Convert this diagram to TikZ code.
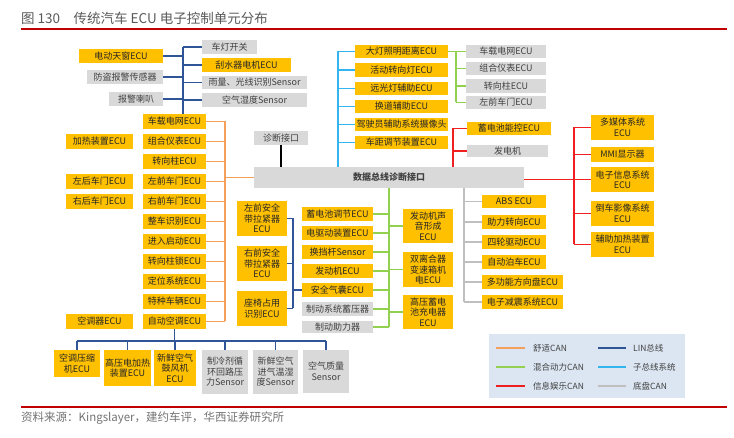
\documentclass[tikz,border=0pt]{standalone}
\usepackage{fontspec}
\setmainfont{Noto Sans CJK SC}
\definecolor{boxY}{HTML}{FFC000}
\definecolor{boxG}{HTML}{D9D9D9}
\definecolor{cOr}{HTML}{F5A05A}
\definecolor{cGr}{HTML}{92D050}
\definecolor{cRd}{HTML}{F02020}
\definecolor{cDb}{HTML}{2F5597}
\definecolor{cLb}{HTML}{33B5F0}
\definecolor{cGy}{HTML}{BFBFBF}
\definecolor{cLeg}{HTML}{DCE6F2}
\definecolor{cTitle}{HTML}{595959}
\definecolor{cRule}{HTML}{C00000}
\newcommand\mybox[7]{\node[#6, minimum width={#4-#2}, minimum height={#5-#3}] (#1) at ({(#2+#4)/2},{(#3+#5)/2}) {#7};}
\begin{document}
\begin{tikzpicture}[x=1pt,y=-1pt,
  basebox/.style={inner sep=0pt, align=center, font=\fontsize{9}{10.5}\selectfont},
  ybox/.style={basebox, fill=boxY, text=black!85},
  gbox/.style={basebox, fill=boxG, text=black!75},
  ln/.style={line width=1.3pt},
  orL/.style={ln, draw=cOr}, grL/.style={ln, draw=cGr}, rdL/.style={ln, draw=cRd},
  dbL/.style={ln, draw=cDb}, lbL/.style={ln, draw=cLb}, gyL/.style={ln, draw=cGy},
  bkL/.style={ln, draw=black},
  legtxt/.style={anchor=west, inner sep=0pt, font=\fontsize{8.5}{10}\selectfont, text=black!75}]
\useasboundingbox (0,0) rectangle (734,438);
% title and rules
\node[anchor=west, inner sep=0pt, text=cTitle, font=\fontsize{13.5}{15}\selectfont] (title) at (21,18) {图 130\quad 传统汽车 ECU 电子控制单元分布};
\coordinate (r1a) at (21,29); \coordinate (r1b) at (727,29);
\draw[cRule, line width=1.2pt] (r1a) -- (r1b);
\coordinate (r2a) at (21,407); \coordinate (r2b) at (727,407);
\draw[cRule, line width=1.2pt] (r2a) -- (r2b);
\node[anchor=west, inner sep=0pt, text=black!55, font=\fontsize{11.5}{13}\selectfont] (src) at (21,418) {资料来源：Kingslayer，建约车评，华西证券研究所};
% LIN top
\mybox{tc}{79}{49}{163}{63}{ybox}{电动天窗ECU}
\mybox{fd}{87}{70}{163}{84}{gbox}{防盗报警传感器}
\mybox{bj}{109}{92}{163}{106}{gbox}{报警喇叭}
\mybox{cd}{202}{40}{257}{54}{gbox}{车灯开关}
\mybox{gs}{202}{58}{291}{72}{ybox}{刮水器电机ECU}
\mybox{yl}{202}{76}{307}{89}{gbox}{雨量、光线识别Sensor}
\mybox{sd}{202}{93}{307}{107}{gbox}{空气湿度Sensor}
% orange column
\mybox{o1}{143}{114}{206}{129}{ybox}{车载电网ECU}
\mybox{o2}{143}{134}{206}{149}{ybox}{组合仪表ECU}
\mybox{o3}{143}{154}{206}{169}{ybox}{转向柱ECU}
\mybox{o4}{143}{174}{206}{189}{ybox}{左前车门ECU}
\mybox{o5}{143}{194}{206}{209}{ybox}{右前车门ECU}
\mybox{o6}{143}{214}{206}{229}{ybox}{整车识别ECU}
\mybox{o7}{143}{234}{206}{249}{ybox}{进入启动ECU}
\mybox{o8}{143}{254}{206}{269}{ybox}{转向柱锁ECU}
\mybox{o9}{143}{274}{206}{289}{ybox}{定位系统ECU}
\mybox{o10}{143}{294}{206}{309}{ybox}{特种车辆ECU}
\mybox{o11}{143}{314}{206}{329}{ybox}{自动空调ECU}
\mybox{jr}{66}{134}{133}{149}{ybox}{加热装置ECU}
\mybox{zh}{66}{174}{133}{189}{ybox}{左后车门ECU}
\mybox{yh}{66}{194}{133}{209}{ybox}{右后车门ECU}
\mybox{kt}{66}{314}{133}{329}{ybox}{空调器ECU}
% bottom row
\mybox{b1}{54}{350}{100}{377}{ybox}{空调压缩\\机ECU}
\mybox{b2}{104}{350}{151}{386}{ybox}{高压电加热\\装置ECU}
\mybox{b3}{154}{350}{196}{386}{ybox}{新鲜空气\\鼓风机\\ECU}
\mybox{b4}{202}{350}{248}{394}{gbox}{制冷剂循\\环回路压\\力Sensor}
\mybox{b5}{253}{350}{298}{394}{gbox}{新鲜空气\\进气温湿\\度Sensor}
\mybox{b6}{303}{350}{349}{393}{gbox}{空气质量\\Sensor}
% main
\mybox{main}{254}{167}{524}{188}{gbox}{\bfseries 数据总线诊断接口}
\mybox{zd}{254}{131}{308}{145}{gbox}{诊断接口}
% light blue column
\mybox{l1}{355}{45}{448}{58}{ybox}{大灯照明距离ECU}
\mybox{l2}{355}{63}{448}{77}{ybox}{活动转向灯ECU}
\mybox{l3}{355}{82}{448}{95}{ybox}{远光灯辅助ECU}
\mybox{l4}{355}{100}{448}{113}{ybox}{换道辅助ECU}
\mybox{l5}{355}{118}{448}{131}{ybox}{驾驶员辅助系统摄像头}
\mybox{l6}{355}{136}{448}{149}{ybox}{车距调节装置ECU}
% green top right
\mybox{g1}{466}{45}{546}{58}{gbox}{车载电网ECU}
\mybox{g2}{466}{62}{546}{75}{gbox}{组合仪表ECU}
\mybox{g3}{466}{79}{546}{93}{gbox}{转向柱ECU}
\mybox{g4}{466}{96}{546}{109}{gbox}{左前车门ECU}
% red top
\mybox{rA}{467}{122}{551}{135}{ybox}{蓄电池能控ECU}
\mybox{rB}{467}{145}{548}{157}{gbox}{发电机}
% right red column
\mybox{e1}{591}{115}{654}{140}{ybox}{多媒体系统\\ECU}
\mybox{e2}{591}{147}{654}{162}{ybox}{MMI显示器}
\mybox{e3}{591}{167}{654}{192}{ybox}{电子信息系统\\ECU}
\mybox{e4}{591}{201}{654}{226}{ybox}{倒车影像系统\\ECU}
\mybox{e5}{591}{232}{654}{257}{ybox}{辅助加热装置\\ECU}
% chassis
\mybox{c1}{482}{195}{546}{208}{ybox}{ABS ECU}
\mybox{c2}{482}{215}{546}{229}{ybox}{助力转向ECU}
\mybox{c3}{482}{235}{546}{249}{ybox}{四轮驱动ECU}
\mybox{c4}{482}{255}{546}{269}{ybox}{自动泊车ECU}
\mybox{c5}{482}{275}{563}{289}{ybox}{多功能方向盘ECU}
\mybox{c6}{482}{295}{563}{309}{ybox}{电子减震系统ECU}
% middle green
\mybox{m1}{302}{207}{373}{221}{ybox}{蓄电池调节ECU}
\mybox{m2}{302}{226}{373}{240}{ybox}{电驱动装置ECU}
\mybox{m3}{302}{245}{373}{259}{ybox}{换挡杆Sensor}
\mybox{m4}{302}{264}{373}{278}{ybox}{发动机ECU}
\mybox{m5}{302}{283}{373}{297}{ybox}{安全气囊ECU}
\mybox{m6}{302}{302}{373}{316}{gbox}{制动系统蓄压器}
\mybox{m7}{302}{321}{373}{333}{gbox}{制动助力器}
\mybox{n1}{403}{209}{453}{243}{ybox}{发动机声\\音形成\\ECU}
\mybox{n2}{403}{252}{453}{287}{ybox}{双离合器\\变速箱机\\电ECU}
\mybox{n3}{403}{295}{453}{329}{ybox}{高压蓄电\\池充电器\\ECU}
% dark blue middle
\mybox{s1}{237}{201}{287}{236}{ybox}{左前安全\\带拉紧器\\ECU}
\mybox{s2}{237}{246}{287}{281}{ybox}{右前安全\\带拉紧器\\ECU}
\mybox{s3}{237}{291}{287}{326}{ybox}{座椅占用\\识别ECU}
% bus coordinates
\coordinate (obus) at (225,0);
\coordinate (lbus) at (183,0);
\coordinate (bbus) at (0,341);
\coordinate (lbb) at (338,0);
\coordinate (gt) at (456,0);
\coordinate (rt) at (453,0);
\coordinate (rr) at (574,0);
\coordinate (cb) at (464,0);
\coordinate (mg) at (389,0);
\coordinate (db) at (293,0);
% orange
\draw[orL] (o1.east -| obus) -- (o11.east -| obus);
\foreach \i in {1,...,11} \draw[orL] (o\i.east) -- (o\i.east -| obus);
\draw[orL] (main.west -| obus) -- (main.west);
% LIN top
\draw[dbL] (cd.west -| lbus) -- (o1.north -| lbus);
\foreach \n in {tc,fd,bj} \draw[dbL] (\n.east) -- (\n.east -| lbus);
\foreach \n in {cd,gs,yl,sd} \draw[dbL] (\n.west -| lbus) -- (\n.west);
% LIN bottom
\draw[dbL] (o11.south) -- (o11.south |- bbus);
\draw[dbL] (b1.north |- bbus) -- (b6.north |- bbus);
\foreach \n in {b1,b2,b3,b4,b5,b6} \draw[dbL] (\n.north |- bbus) -- (\n.north);
% light blue
\draw[lbL] (l1.west -| lbb) -- (main.north -| lbb);
\foreach \i in {1,...,6} \draw[lbL] (l\i.west -| lbb) -- (l\i.west);
% green top
\draw[grL] (l1.east) -- (l1.east -| gt);
\draw[grL] (g1.west -| gt) -- (g4.west -| gt);
\foreach \i in {1,...,4} \draw[grL] (g\i.west -| gt) -- (g\i.west);
% red top
\draw[rdL] (rA.west -| rt) -- (main.north -| rt);
\draw[rdL] (rA.west -| rt) -- (rA.west);
\draw[rdL] (rB.west -| rt) -- (rB.west);
% black
\draw[bkL] (zd.south) -- (main.north -| zd.south);
% red right
\draw[rdL] (main.east |- e3.west) -- (e3.west);
\draw[rdL] (e1.west -| rr) -- (e5.west -| rr);
\foreach \i in {1,2,4,5} \draw[rdL] (e\i.west -| rr) -- (e\i.west);
% chassis
\draw[gyL] (main.south -| cb) -- (c6.west -| cb);
\foreach \i in {1,...,6} \draw[gyL] (c\i.west -| cb) -- (c\i.west);
% middle green
\draw[grL] (main.south -| mg) -- (m7.east -| mg);
\foreach \i in {1,...,7} \draw[grL] (m\i.east) -- (m\i.east -| mg);
\foreach \i in {1,2,3} \draw[grL] (n\i.west -| mg) -- (n\i.west);
% dark blue middle
\draw[dbL] (s1.east -| db) -- (s3.east -| db);
\foreach \i in {1,2,3} \draw[dbL] (s\i.east) -- (s\i.east -| db);
\draw[dbL] (m5.west -| db) -- (m5.west);
% legend
\mybox{leg}{489}{334}{685}{398}{basebox, fill=cLeg}{}
\coordinate (k1a) at (496,348); \coordinate (k1b) at (525,348);
\coordinate (k2a) at (496,367); \coordinate (k2b) at (525,367);
\coordinate (k3a) at (496,386); \coordinate (k3b) at (525,386);
\coordinate (k4a) at (598,348); \coordinate (k4b) at (626,348);
\coordinate (k5a) at (598,367); \coordinate (k5b) at (626,367);
\coordinate (k6a) at (598,386); \coordinate (k6b) at (626,386);
\draw[orL] (k1a) -- (k1b); \node[legtxt] (t1) at (533,348) {舒适CAN};
\draw[grL] (k2a) -- (k2b); \node[legtxt] (t2) at (533,367) {混合动力CAN};
\draw[rdL] (k3a) -- (k3b); \node[legtxt] (t3) at (533,386) {信息娱乐CAN};
\draw[dbL] (k4a) -- (k4b); \node[legtxt] (t4) at (633,348) {LIN总线};
\draw[lbL] (k5a) -- (k5b); \node[legtxt] (t5) at (633,367) {子总线系统};
\draw[gyL] (k6a) -- (k6b); \node[legtxt] (t6) at (633,386) {底盘CAN};
\end{tikzpicture}
\end{document}
